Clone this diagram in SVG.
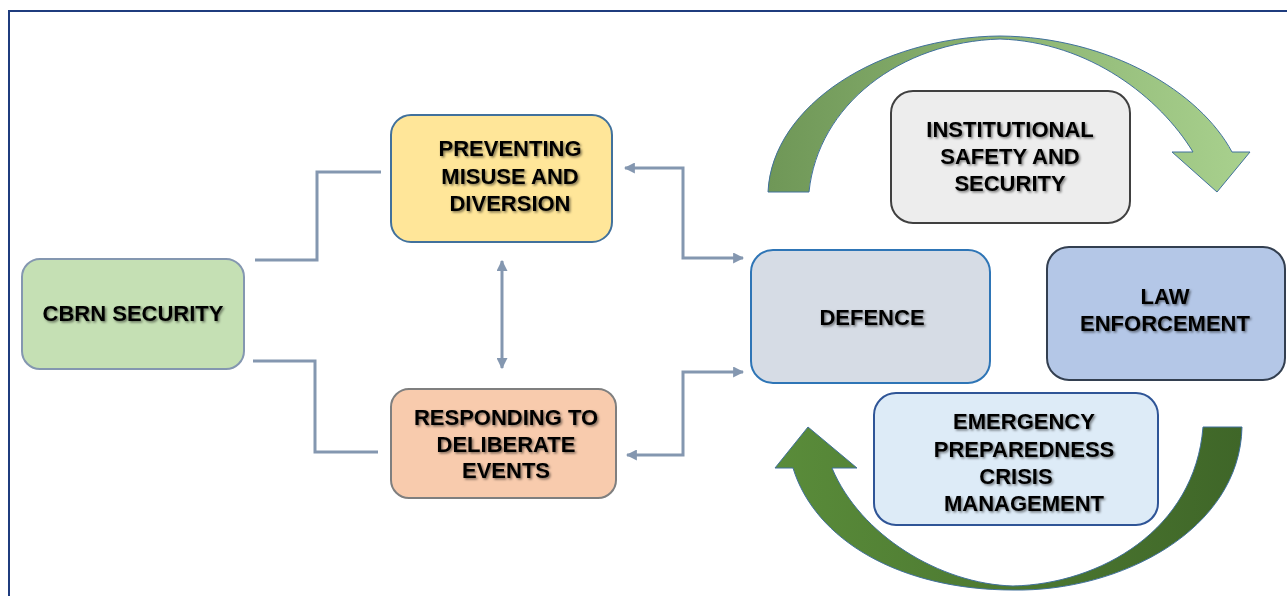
<svg xmlns="http://www.w3.org/2000/svg" width="1287" height="596" viewBox="0 0 1287 596">
  <style>
    .box { stroke-width: 2; }
    .lbl { font-family: "Liberation Sans", Arial, sans-serif; font-weight: bold; font-size: 22px; fill: #000; text-anchor: middle; filter: url(#shadow); }
    .conn { fill: none; stroke: #8497b0; stroke-width: 3; }
    .bend { stroke: #41719c; stroke-width: 1; }
  </style>
  <defs>
    <filter id="shadow" x="-10%" y="-30%" width="120%" height="160%">
      <feDropShadow dx="1.5" dy="1.5" stdDeviation="0.9" flood-color="#000" flood-opacity="0.5"/>
    </filter>
    <marker id="head" viewBox="0 0 10 10" refX="9" refY="5" markerWidth="11" markerHeight="11" markerUnits="userSpaceOnUse" orient="auto-start-reverse">
      <path d="M0,0 L10,5 L0,10 Z" fill="#8497b0"/>
    </marker>
    <linearGradient id="gTop" x1="0" y1="0" x2="1" y2="0">
      <stop offset="0" stop-color="#6f9757"/>
      <stop offset="1" stop-color="#a9d18e"/>
    </linearGradient>
    <linearGradient id="gBottom" x1="0" y1="0" x2="1" y2="0">
      <stop offset="0" stop-color="#5a8c3a"/>
      <stop offset="1" stop-color="#3f6628"/>
    </linearGradient>
  </defs>

  <rect width="1287" height="596" fill="#fff"/>
  <!-- page frame -->
  <rect x="9" y="11" width="1300" height="620" fill="none" stroke="#1f3c7e" stroke-width="2"/>

  <!-- curved cycle arrows -->
  <g id="arrow-top">
    <path class="bend" fill="url(#gTop)" d="M768,192 C772,105 880,37 1000,36 C1110,37 1200,92 1232,152 L1250,152 L1217,192 L1172,152 L1193,152 C1160,98 1090,42 1000,39 C900,42 818,105 809,192 Z"/>
  </g>
  <g id="arrow-bottom">
    <path class="bend" fill="url(#gBottom)" d="M1242,427 C1240,530 1120,592 1013,590 C900,590 815,540 793,468 L775,468 L808,427 L857,468 L832,468 C860,535 940,584 1013,586 C1100,584 1195,530 1203,427 Z"/>
  </g>

  <!-- connectors -->
  <g id="connectors">
    <path class="conn" d="M255,260 H317 V172 H381"/>
    <path class="conn" d="M253,361 H315 V452 H378"/>
    <path class="conn" d="M502,261 V368" marker-start="url(#head)" marker-end="url(#head)"/>
    <path class="conn" d="M625,168 H683 V258 H743" marker-start="url(#head)" marker-end="url(#head)"/>
    <path class="conn" d="M743,372 H683 V455 H627" marker-start="url(#head)" marker-end="url(#head)"/>
  </g>

  <g id="cbrn-security">
    <rect class="box" x="22" y="259" width="222" height="110" rx="18" fill="#c5e0b4" stroke="#8497b0"/>
    <text class="lbl" x="133" y="321">CBRN SECURITY</text>
  </g>

  <g id="preventing">
    <rect class="box" x="391" y="115" width="221" height="127" rx="20" fill="#ffe699" stroke="#41719c"/>
    <text class="lbl" x="510" y="156">PREVENTING</text>
    <text class="lbl" x="510" y="184">MISUSE AND</text>
    <text class="lbl" x="510" y="211">DIVERSION</text>
  </g>

  <g id="responding">
    <rect class="box" x="391" y="389" width="225" height="109" rx="18" fill="#f8cbad" stroke="#7f7f7f"/>
    <text class="lbl" x="506" y="425">RESPONDING TO</text>
    <text class="lbl" x="506" y="452">DELIBERATE</text>
    <text class="lbl" x="506" y="478">EVENTS</text>
  </g>

  <g id="defence">
    <rect class="box" x="751" y="250" width="239" height="133" rx="22" fill="#d6dce5" stroke="#2e75b6"/>
    <text class="lbl" x="872" y="325">DEFENCE</text>
  </g>

  <g id="law-enforcement">
    <rect class="box" x="1047" y="247" width="238" height="133" rx="22" fill="#b4c7e7" stroke="#333f50"/>
    <text class="lbl" x="1165" y="304">LAW</text>
    <text class="lbl" x="1165" y="331">ENFORCEMENT</text>
  </g>

  <g id="institutional">
    <rect class="box" x="891" y="91" width="239" height="132" rx="22" fill="#ededed" stroke="#404040"/>
    <text class="lbl" x="1010" y="137">INSTITUTIONAL</text>
    <text class="lbl" x="1010" y="164">SAFETY AND</text>
    <text class="lbl" x="1010" y="191">SECURITY</text>
  </g>

  <g id="emergency">
    <rect class="box" x="874" y="393" width="284" height="132" rx="22" fill="#ddebf7" stroke="#2f5597"/>
    <text class="lbl" x="1024" y="429">EMERGENCY</text>
    <text class="lbl" x="1024" y="457">PREPAREDNESS</text>
    <text class="lbl" x="1016" y="484">CRISIS</text>
    <text class="lbl" x="1024" y="511">MANAGEMENT</text>
  </g>
</svg>
